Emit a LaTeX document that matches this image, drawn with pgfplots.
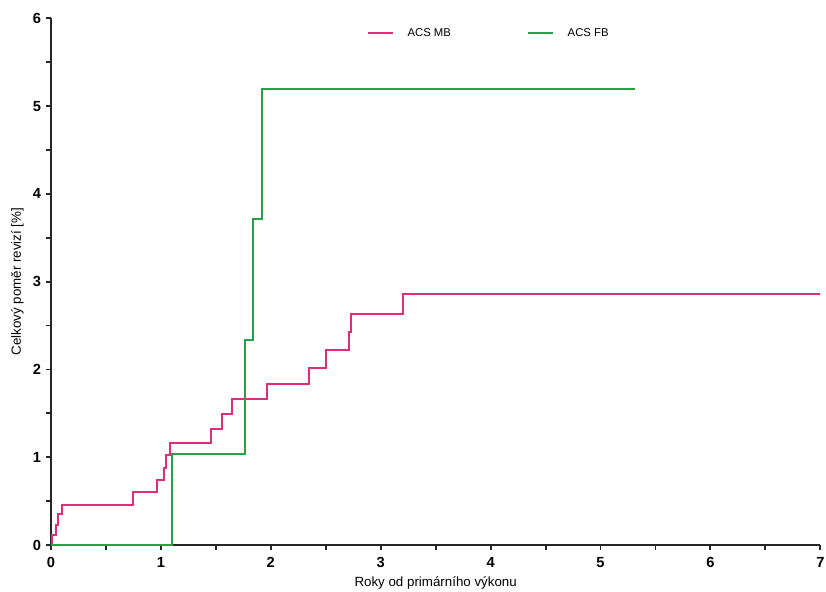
\documentclass[border=0pt]{standalone}
\usepackage{pgfplots}
\pgfplotsset{compat=1.18}
\usepackage{fontspec}
\setmainfont{Liberation Sans}
\definecolor{mbcol}{RGB}{222,45,125}
\definecolor{fbcol}{RGB}{40,160,70}
\begin{document}
\begin{tikzpicture}
\useasboundingbox (-38.25pt,-35.25pt) rectangle (581.25pt,408.75pt);
\begin{axis}[
  at={(0,0)}, anchor=south west,
  scale only axis,
  width=577pt, height=395pt,
  xmin=0, xmax=7, ymin=0, ymax=6,
  axis x line=bottom, axis y line=left,
  axis line style={-, line width=1.4pt, black!85},
  xtick={0,1,2,3,4,5,6,7}, ytick={0,1,2,3,4,5,6},
  minor xtick={0.5,1.5,2.5,3.5,4.5,5.5,6.5},
  minor ytick={0.5,1.5,2.5,3.5,4.5,5.5},
  tick align=outside,
  major tick length=4pt, minor tick length=4pt,
  every tick/.style={line width=1.4pt, black!85},
  /pgf/number format/assume math mode=true,
  ticklabel style={font=\bfseries\fontsize{11}{13}\selectfont},
  xticklabel style={yshift=-2pt},
  xlabel={Roky od primárního výkonu},
  ylabel={Celkový poměr revizí [\%]},
  label style={font=\fontsize{10}{12}\selectfont},
  xlabel style={yshift=0.5pt},
  ylabel style={yshift=0pt},
  clip=false,
  legend style={draw=none, fill=none, at={(0.405,0.992)}, anchor=north west,
    legend columns=2, font=\fontsize{8.5}{10}\selectfont,
    /tikz/every even column/.append style={column sep=55pt}},
  legend image code/.code={\draw[#1] (0cm,0cm) -- (0.66cm,0cm); \path (0.95cm,0cm);},
  legend cell align=left,
]
\addplot[const plot, mbcol, line width=1.5pt] coordinates {
(0,0) (0.012,0.11) (0.045,0.23) (0.066,0.35) (0.097,0.46) (0.745,0.60)
(0.963,0.74) (1.027,0.88) (1.048,1.02) (1.087,1.165) (1.458,1.32)
(1.56,1.49) (1.65,1.66) (1.963,1.83) (2.346,2.02) (2.506,2.22)
(2.715,2.43) (2.727,2.63) (3.2,2.86) (7,2.86)};
\addlegendentry{ACS MB}
\addplot[const plot, fbcol, line width=1.5pt] coordinates {
(0,0) (1.099,1.04) (1.766,2.33) (1.839,3.71) (1.923,5.19) (5.31,5.19)};
\addlegendentry{ACS FB}
\end{axis}
\end{tikzpicture}
\end{document}
